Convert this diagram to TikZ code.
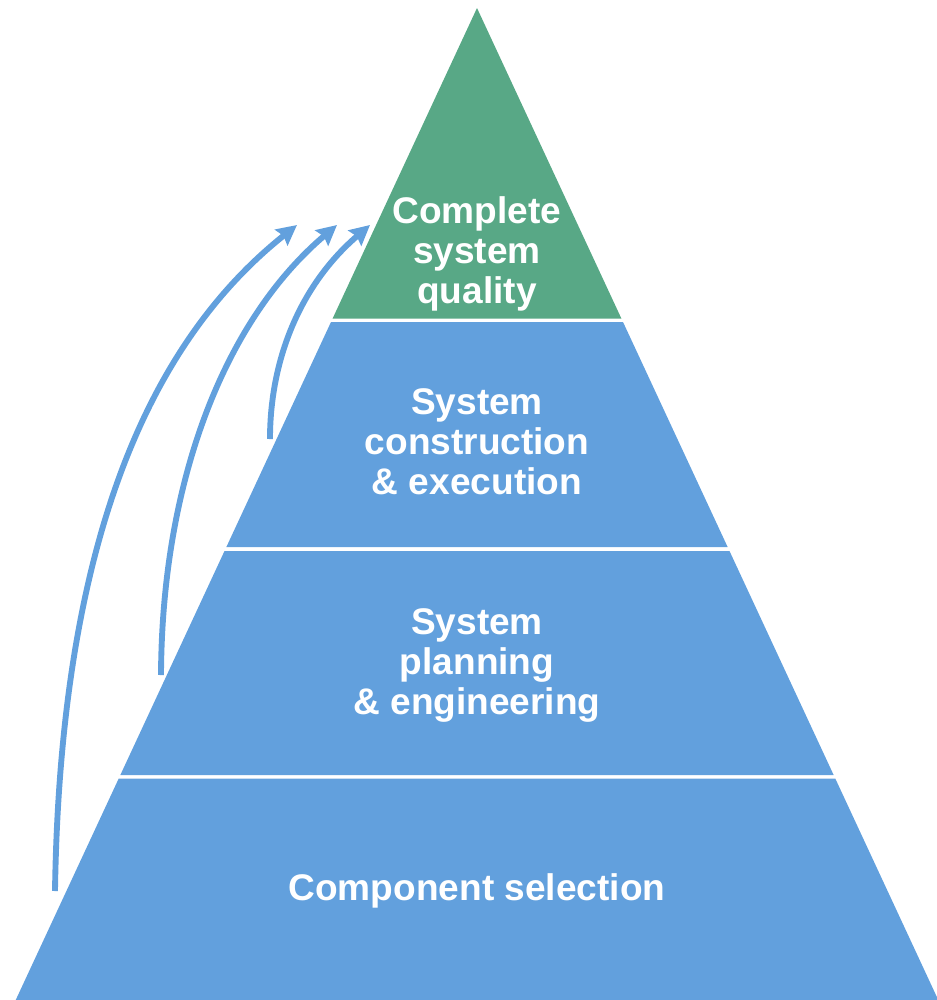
\documentclass[tikz,border=0pt]{standalone}
\usepackage{fontspec}
\setmainfont{Liberation Sans}
\usetikzlibrary{arrows.meta}
\definecolor{pgreen}{HTML}{58A886}
\definecolor{pblue}{HTML}{62A0DD}
\tikzset{
  lbl/.style={text=white, font=\fontsize{27.8}{30}\selectfont\bfseries, align=center},
  upar/.style={draw=pblue, line width=4.4pt, -{Stealth[length=15pt,width=15pt,inset=2pt]}},
}
\begin{document}
\begin{tikzpicture}[x=0.75pt,y=-0.75pt]
\useasboundingbox (0,0) rectangle (937,1000);
% pyramid: apex (477,8), half-width slope 0.465 per px
\fill[pgreen] (477,8) -- (477-0.465*310.5,318.5) -- (477+0.465*310.5,318.5) -- cycle;
\fill[pblue] (477-0.465*314,322) -- (477+0.465*314,322) -- (477+0.465*539,547) -- (477-0.465*539,547) -- cycle;
\fill[pblue] (477-0.465*543,551) -- (477+0.465*543,551) -- (477+0.465*767,775) -- (477-0.465*767,775) -- cycle;
\fill[pblue] (477-0.465*770.5,778.5) -- (477+0.465*770.5,778.5) -- (477+0.465*992,1000) -- (477-0.465*992,1000) -- cycle;
% labels
\node[lbl] (top) at (477,254) {Complete\\system\\quality};
\node[lbl] (construct) at (477,442) {System\\construction\\\& execution};
\node[lbl] (plan) at (477,665) {System\\planning\\\& engineering};
\node[lbl] (comp) at (477,891) {Component selection};
% arrows
\coordinate (s1) at (55,891);
\coordinate (t1) at (297,225);
\coordinate (s2) at (161,675);
\coordinate (t2) at (337,225);
\coordinate (s3) at (270,439);
\coordinate (t3) at (370,225);
\draw[upar] (s1) .. controls (60,560) and (140,350) .. (t1);
\draw[upar] (s2) .. controls (162,480) and (225,320) .. (t2);
\draw[upar] (s3) .. controls (270,360) and (300,285) .. (t3);
\end{tikzpicture}
\end{document}
